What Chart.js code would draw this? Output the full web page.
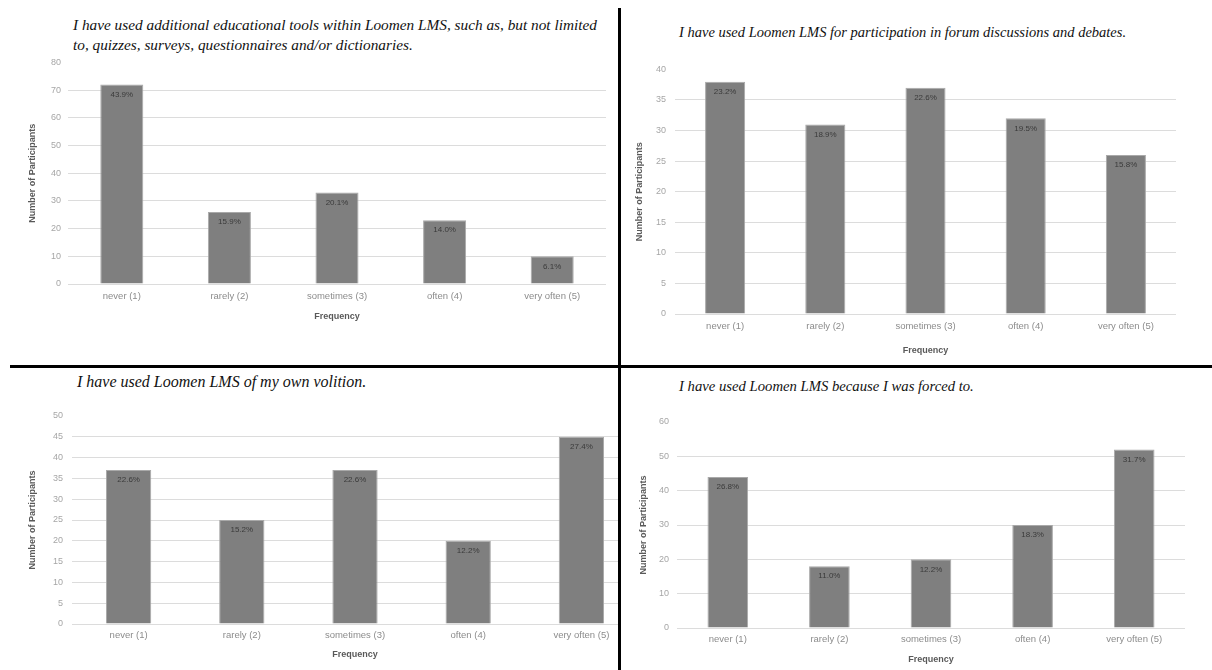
<!DOCTYPE html>
<html lang="en">
<head>
    <meta charset="UTF-8">
    <title>Loomen LMS survey</title>
    <script src="https://cdn.jsdelivr.net/npm/chart.js"></script>
    <style>
        body {
            margin: 0;
            background: #fff;
            width: 1212px;
            height: 670px;
            position: relative;
            overflow: hidden;
        }
        .title {
            position: absolute;
            font-family: "Liberation Serif", "Times New Roman", Times, serif;
            font-style: italic;
            color: #111;
            white-space: nowrap;
            line-height: 20px;
        }
        .box {
            position: absolute;
            overflow: hidden;
        }
        .vline {
            position: absolute;
            left: 618px;
            top: 8px;
            width: 3px;
            height: 662px;
            background: #000;
        }
        .hline {
            position: absolute;
            left: 10px;
            top: 365px;
            width: 1202px;
            height: 3px;
            background: #000;
        }
    </style>
</head>
<body>
    <div class="title" style="left:73px; top:15px; font-size:15.3px;">I have used additional educational tools within Loomen LMS, such as, but not limited<br>to, quizzes, surveys, questionnaires and/or dictionaries.</div>
    <div class="title" style="left:679px; top:22px; font-size:14.5px;">I have used Loomen LMS for participation in forum discussions and debates.</div>
    <div class="title" style="left:77px; top:372px; font-size:16px;">I have used Loomen LMS of my own volition.</div>
    <div class="title" style="left:679px; top:376px; font-size:14.7px;">I have used Loomen LMS because I was forced to.</div>

    <div class="box" style="left:0; top:50px; width:606px; height:280px;"><canvas id="c1" width="606" height="280"></canvas></div>
    <div class="box" style="left:621px; top:55px; width:555px; height:310px;"><canvas id="c2" width="555" height="310"></canvas></div>
    <div class="box" style="left:0; top:400px; width:618px; height:270px;"><canvas id="c3" width="638" height="270"></canvas></div>
    <div class="box" style="left:621px; top:400px; width:564px; height:270px;"><canvas id="c4" width="564" height="270"></canvas></div>

    <div class="vline"></div>
    <div class="hline"></div>

    <script>
        const categories = ['never (1)', 'rarely (2)', 'sometimes (3)', 'often (4)', 'very often (5)'];

        const toolsCounts = [72, 26, 33, 23, 10];
        const toolsPct = ['43.9%', '15.9%', '20.1%', '14.0%', '6.1%'];

        const forumCounts = [38, 31, 37, 32, 26];
        const forumPct = ['23.2%', '18.9%', '22.6%', '19.5%', '15.8%'];

        const volitionCounts = [37, 25, 37, 20, 45];
        const volitionPct = ['22.6%', '15.2%', '22.6%', '12.2%', '27.4%'];

        const forcedCounts = [44, 18, 20, 30, 52];
        const forcedPct = ['26.8%', '11.0%', '12.2%', '18.3%', '31.7%'];

        // percentage text just under the top of each bar
        const pctLabels = {
            id: 'pctLabels',
            afterDatasetsDraw(chart) {
                const ctx = chart.ctx;
                const pct = chart.data.datasets[0].pct;
                ctx.save();
                ctx.font = '8px "Liberation Sans", Arial, sans-serif';
                ctx.fillStyle = '#3a3a3a';
                ctx.textAlign = 'center';
                ctx.textBaseline = 'middle';
                chart.getDatasetMeta(0).data.forEach(function(bar, i) {
                    ctx.fillText(pct[i], bar.x, bar.y + 10);
                });
                ctx.restore();
            }
        };

        function makeChart(id, counts, pct, yMax, yStep, s) {
            return new Chart(document.getElementById(id), {
                type: 'bar',
                data: {
                    labels: categories,
                    datasets: [{
                        data: counts,
                        pct: pct,
                        backgroundColor: '#7f7f7f',
                        borderColor: '#a9a9a9',
                        borderWidth: 1,
                        categoryPercentage: 1,
                        barPercentage: 0.4
                    }]
                },
                plugins: [pctLabels],
                options: {
                    responsive: false,
                    animation: false,
                    layout: { padding: { top: s.padTop, left: 0, right: 0, bottom: 0 } },
                    plugins: { legend: { display: false }, tooltip: { enabled: false } },
                    scales: {
                        x: {
                            afterFit: function(scale) { scale.height = s.xH; },
                            grid: { display: false, drawTicks: false },
                            border: { display: false },
                            ticks: {
                                color: '#8c8c8c',
                                padding: s.xPad,
                                font: { family: '"Liberation Sans", Arial, sans-serif', size: 9.5 }
                            },
                            title: {
                                display: true,
                                text: 'Frequency',
                                color: '#595959',
                                padding: { top: 0, bottom: s.fPad },
                                font: { family: '"Liberation Sans", Arial, sans-serif', size: 9, weight: 'bold' }
                            }
                        },
                        y: {
                            min: 0,
                            max: yMax,
                            afterFit: function(scale) { scale.width = s.yW; },
                            border: { display: false },
                            grid: {
                                drawTicks: false,
                                color: function(c) { return c.tick.value === yMax ? 'rgba(0,0,0,0)' : '#dcdcdc'; }
                            },
                            ticks: {
                                stepSize: yStep,
                                color: '#a6a6a6',
                                padding: s.yPad,
                                font: { family: '"Liberation Sans", Arial, sans-serif', size: 9 }
                            },
                            title: {
                                display: true,
                                text: 'Number of Participants',
                                color: '#595959',
                                padding: { top: s.tPad, bottom: 0 },
                                font: { family: '"Liberation Sans", Arial, sans-serif', size: 9, weight: 'bold' }
                            }
                        }
                    }
                }
            });
        }

        makeChart('c1', toolsCounts, toolsPct, 80, 10, { padTop: 12, xH: 46, xPad: 7, fPad: 8, yW: 68, yPad: 7, tPad: 27 });
        makeChart('c2', forumCounts, forumPct, 40, 5, { padTop: 13, xH: 51, xPad: 7, fPad: 9, yW: 54, yPad: 9, tPad: 13 });
        makeChart('c3', volitionCounts, volitionPct, 50, 5, { padTop: 16, xH: 46, xPad: 6, fPad: 10, yW: 72, yPad: 9, tPad: 27 });
        makeChart('c4', forcedCounts, forcedPct, 60, 10, { padTop: 22, xH: 42, xPad: 6, fPad: 5, yW: 56, yPad: 8, tPad: 17 });
    </script>
</body>
</html>
